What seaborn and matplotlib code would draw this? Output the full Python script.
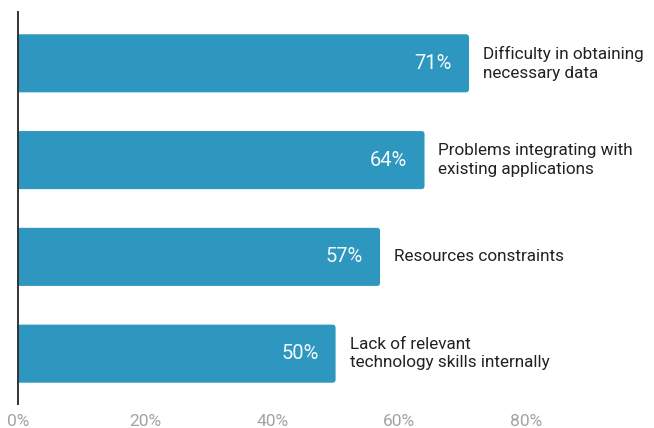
import matplotlib
matplotlib.use("Agg")
import matplotlib.pyplot as plt
import seaborn as sns
import pandas as pd
from matplotlib.patches import FancyBboxPatch

# ================= DATA =================
challenges = [
    "Difficulty in obtaining\nnecessary data",
    "Problems integrating with\nexisting applications",
    "Resources constraints",
    "Lack of relevant\ntechnology skills internally",
]
shares = [71, 64, 57, 50]
x_ticks = [0, 20, 40, 60, 80]

BAR_COLOR = "#2E97C0"

df = pd.DataFrame({"challenge": challenges, "share": shares})

# ================= PLOT =================
sns.set_style("white")
plt.rcParams["font.family"] = ["Roboto", "DejaVu Sans"]

fig = plt.figure(figsize=(6.54, 4.28), dpi=100)
ax = fig.add_axes([18 / 654, 24 / 428, 632 / 654, 392 / 428])

sns.barplot(data=df, x="share", y="challenge", orient="h",
            color=BAR_COLOR, saturation=1, width=0.6, ax=ax)

ax.set_xlim(0, 99.5)
ax.set_ylim(3.52, -0.53)

# swap plain bars for ones with rounded right corners
bars = list(ax.patches)
for p in bars:
    x, y = p.get_x(), p.get_y()
    w, h = p.get_width(), p.get_height()
    fb = FancyBboxPatch((x - 2, y), w + 2, h,
                        boxstyle="round,pad=0,rounding_size=0.5",
                        mutation_aspect=0.066,
                        facecolor=BAR_COLOR, edgecolor="none", clip_on=True)
    ax.add_patch(fb)
    p.remove()

for i, (lab, val) in enumerate(zip(challenges, shares)):
    ax.text(val - 2.7, i, f"{val}%", ha="right", va="center",
            color="#F4F9FC", fontsize=14.5)
    ax.text(val + 2.2, i, lab, ha="left", va="center",
            color="#222222", fontsize=12.3, linespacing=1.3)

ax.set_xticks(x_ticks)
ax.set_xticklabels([f"{t}%" for t in x_ticks], color="#A3A3A3",
                   fontsize=12.5)
ax.set_yticks([])
ax.set_xlabel("")
ax.set_ylabel("")
ax.tick_params(axis="x", length=0, pad=7)

for side in ["top", "right", "bottom"]:
    ax.spines[side].set_visible(False)
ax.spines["left"].set_color("#333333")
ax.spines["left"].set_linewidth(1.4)
ax.spines["left"].set_zorder(5)

fig.savefig("out.png", dpi=100)
